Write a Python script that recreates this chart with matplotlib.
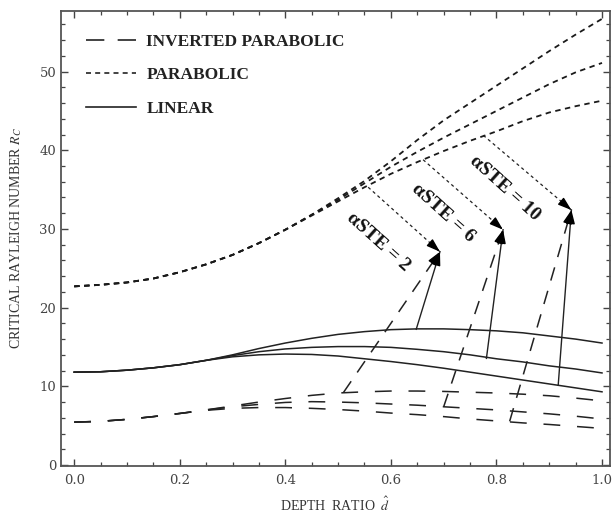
import matplotlib
matplotlib.use('Agg')
import matplotlib.pyplot as plt
from matplotlib.lines import Line2D
from matplotlib.ticker import MultipleLocator

plt.rcParams['mathtext.fontset'] = 'stix'

# depth ratio grid the curves were read at
depth = [0, 0.05, 0.1, 0.15, 0.2, 0.25, 0.3, 0.35, 0.4, 0.45, 0.5,
         0.55, 0.6, 0.65, 0.7, 0.75, 0.8, 0.85, 0.9, 0.95, 1.0]

# parabolic profile, alpha_STE = 2, 6, 10
par_2 = [22.7, 22.9, 23.2, 23.7, 24.5, 25.5, 26.7, 28.2, 29.9, 31.8, 33.9,
         36.1, 38.6, 41.3, 43.8, 46.0, 48.2, 50.4, 52.6, 54.7, 56.7]
par_6 = [22.7, 22.9, 23.2, 23.7, 24.5, 25.5, 26.7, 28.2, 29.9, 31.8, 33.7,
         35.8, 37.9, 39.8, 41.6, 43.3, 45.0, 46.7, 48.4, 49.9, 51.1]
par_10 = [22.7, 22.9, 23.2, 23.7, 24.5, 25.5, 26.7, 28.2, 29.9, 31.7, 33.5,
          35.3, 37.0, 38.5, 39.9, 41.2, 42.4, 43.7, 44.8, 45.6, 46.3]

# linear profile
lin_2 = [11.8, 11.85, 12.05, 12.35, 12.75, 13.3, 14.0, 14.8, 15.5, 16.1, 16.6,
         16.95, 17.2, 17.3, 17.3, 17.2, 17.05, 16.8, 16.4, 16.0, 15.5]
lin_6 = [11.8, 11.85, 12.05, 12.35, 12.75, 13.3, 13.9, 14.4, 14.75, 14.95, 15.05,
         15.05, 14.95, 14.7, 14.4, 14.0, 13.5, 13.1, 12.6, 12.2, 11.7]
lin_10 = [11.8, 11.85, 12.05, 12.35, 12.75, 13.3, 13.75, 14.0, 14.1, 14.05, 13.85,
          13.5, 13.15, 12.75, 12.3, 11.8, 11.3, 10.8, 10.3, 9.8, 9.3]

# inverted parabolic profile
inv_2 = [5.45, 5.55, 5.8, 6.15, 6.55, 7.0, 7.5, 8.0, 8.45, 8.85, 9.15,
         9.3, 9.4, 9.4, 9.35, 9.25, 9.15, 9.0, 8.8, 8.5, 8.15]
inv_6 = [5.45, 5.55, 5.8, 6.15, 6.55, 7.0, 7.4, 7.7, 7.95, 8.05, 8.0,
         7.9, 7.75, 7.6, 7.4, 7.2, 7.0, 6.75, 6.5, 6.2, 5.85]
inv_10 = [5.45, 5.55, 5.8, 6.15, 6.55, 6.95, 7.2, 7.3, 7.3, 7.2, 7.05,
          6.85, 6.6, 6.4, 6.15, 5.85, 5.6, 5.35, 5.15, 4.9, 4.65]

# arrow targets and leader starting points (alpha = 2, 6, 10)
star_x = [0.693, 0.8125, 0.942]
star_y = [27.1, 29.9, 32.4]
par_lead_x = [0.557, 0.661, 0.775]
par_lead_y = [35.3, 38.8, 41.9]
lin_lead_x = [0.648, 0.781, 0.917]
lin_lead_y = [17.25, 13.55, 10.15]
inv_lead_x = [0.51, 0.70, 0.825]
inv_lead_y = [9.2, 7.4, 5.55]
alpha_labels = ['αSTE = 2', 'αSTE = 6', 'αSTE = 10']
label_x = [0.576, 0.699, 0.816]
label_y = [28.4, 32.0, 35.2]

LONG = (0, (11, 11))
SHORT = (0, (3, 2.5))

fig = plt.figure(figsize=(6.13, 5.18), dpi=100)
ax = fig.add_axes([0.0995, 0.1008, 0.8955, 0.878])

for ys in (par_2, par_6, par_10):
    ax.plot(depth, ys, color='#1a1a1a', lw=1.3, linestyle=SHORT)
for ys in (lin_2, lin_6, lin_10):
    ax.plot(depth, ys, color='#222222', lw=1.1)
for ys in (inv_2, inv_6, inv_10):
    ax.plot(depth, ys, color='#222222', lw=1.1, linestyle=LONG)


def leader(x0, y0, x1, y1, ls, lw):
    ax.plot([x0, x1], [y0, y1], color='#222222', lw=lw, linestyle=ls)
    bx = x1 - 0.06 * (x1 - x0)
    by = y1 - 0.06 * (y1 - y0)
    ax.annotate('', xy=(x1, y1), xytext=(bx, by),
                arrowprops=dict(arrowstyle='-|>,head_length=0.9,head_width=0.3',
                                color='black', lw=1, shrinkA=0, shrinkB=0,
                                mutation_scale=9))


for i in range(3):
    leader(par_lead_x[i], par_lead_y[i], star_x[i], star_y[i], (0, (2.5, 2.5)), 0.9)
    leader(lin_lead_x[i], lin_lead_y[i], star_x[i], star_y[i], '-', 1.0)
    leader(inv_lead_x[i], inv_lead_y[i], star_x[i], star_y[i], (0, (9, 7)), 1.1)
    ax.text(label_x[i], label_y[i], alpha_labels[i], rotation=-42,
            ha='center', va='center', rotation_mode='anchor',
            family='Liberation Serif', fontweight='bold', fontsize=14,
            color='#111111')

ax.set_xlim(-0.025, 1.015)
ax.set_ylim(-0.1, 57.7)
ax.xaxis.set_major_locator(MultipleLocator(0.2))
ax.xaxis.set_minor_locator(MultipleLocator(0.05))
ax.yaxis.set_major_locator(MultipleLocator(10))
ax.yaxis.set_minor_locator(MultipleLocator(2))
ax.xaxis.set_major_formatter(matplotlib.ticker.FormatStrFormatter('%.1f'))
ax.tick_params(which='both', direction='in', top=True, right=True,
               colors='#444444', labelcolor='#444444')
ax.tick_params(which='major', length=5, width=1)
ax.tick_params(which='minor', length=3, width=0.9)
ax.tick_params(axis='x', pad=6)
for lab in ax.get_xticklabels() + ax.get_yticklabels():
    lab.set_family('DejaVu Serif')
    lab.set_fontsize(9.5)
for sp in ax.spines.values():
    sp.set_color('#555555')
    sp.set_linewidth(1.3)

ax.set_xlabel(r'DEPTH  RATIO  $\hat{d}$', family='Liberation Serif',
              fontsize=10, color='#333333', labelpad=6)
ax.set_ylabel(r'CRITICAL RAYLEIGH NUMBER $R_C$', family='Liberation Serif',
              fontsize=10, color='#333333', labelpad=11)

handles = [Line2D([], [], color='#222222', lw=1.2, linestyle=(0, (11, 8))),
           Line2D([], [], color='#222222', lw=1.2, linestyle=(0, (3, 2.5))),
           Line2D([], [], color='#222222', lw=1.2)]
leg = ax.legend(handles, ['INVERTED PARABOLIC', 'PARABOLIC', 'LINEAR'],
                loc='upper left', bbox_to_anchor=(0.045, 0.95), frameon=False,
                borderpad=0, borderaxespad=0, handlelength=2.9,
                handletextpad=0.6, labelspacing=1.0,
                prop=dict(family='Liberation Serif', weight='bold', size=12.5))
for t in leg.get_texts():
    t.set_color('#222222')

fig.savefig('out.png', dpi=100)
